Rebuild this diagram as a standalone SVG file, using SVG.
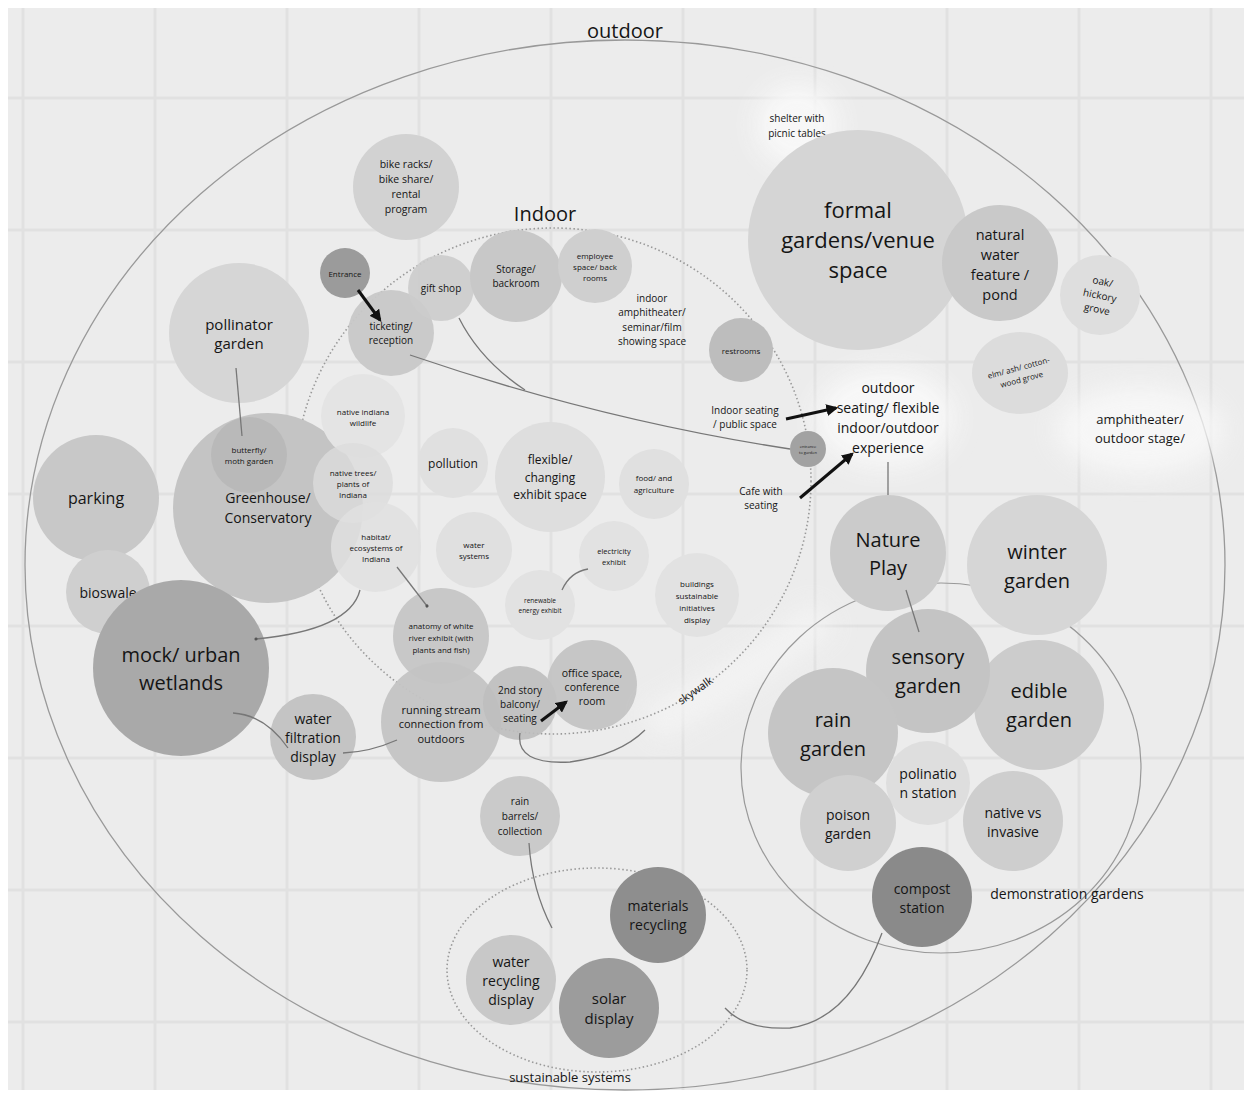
<svg xmlns="http://www.w3.org/2000/svg" width="1248" height="1094" viewBox="0 0 1248 1094">
<defs>
<style>
text{font-family:"Open Sans","Noto Sans","Liberation Sans",sans-serif;fill:#151515;text-anchor:middle;dominant-baseline:central}
.grid line{stroke:#e1e1e1;stroke-width:3}
.ln{fill:none;stroke:#777;stroke-width:1.3}
.ar{fill:none;stroke:#111;stroke-width:3}
.dot{fill:none;stroke:#999;stroke-width:1.6;stroke-dasharray:1.5 2.5}
.glow{fill:#f9f9f9;filter:url(#blur)}
</style>
<filter id="blur" x="-50%" y="-50%" width="200%" height="200%"><feGaussianBlur stdDeviation="12"/></filter>
<marker id="ah" viewBox="0 0 10 10" refX="8" refY="5" markerWidth="4" markerHeight="4" orient="auto"><path d="M0,0 L10,5 L0,10 z" fill="#111"/></marker>
<marker id="sm" viewBox="0 0 10 10" refX="5" refY="5" markerWidth="4" markerHeight="4" orient="auto"><circle cx="5" cy="5" r="3" fill="#555"/></marker>
</defs>
<rect width="1248" height="1094" fill="#ffffff"/>
<rect x="8" y="8" width="1236" height="1082" fill="#ececec"/>
<g class="grid">
<line x1="23" y1="8" x2="23" y2="1090"/><line x1="155" y1="8" x2="155" y2="1090"/><line x1="287" y1="8" x2="287" y2="1090"/><line x1="419" y1="8" x2="419" y2="1090"/><line x1="551" y1="8" x2="551" y2="1090"/><line x1="683" y1="8" x2="683" y2="1090"/><line x1="815" y1="8" x2="815" y2="1090"/><line x1="947" y1="8" x2="947" y2="1090"/><line x1="1079" y1="8" x2="1079" y2="1090"/><line x1="1211" y1="8" x2="1211" y2="1090"/>
<line x1="8" y1="98" x2="1244" y2="98"/><line x1="8" y1="230" x2="1244" y2="230"/><line x1="8" y1="362" x2="1244" y2="362"/><line x1="8" y1="494" x2="1244" y2="494"/><line x1="8" y1="626" x2="1244" y2="626"/><line x1="8" y1="758" x2="1244" y2="758"/><line x1="8" y1="890" x2="1244" y2="890"/><line x1="8" y1="1022" x2="1244" y2="1022"/>
</g>
<g id="zones">
<ellipse cx="625" cy="565" rx="600" ry="525" fill="none" stroke="#999" stroke-width="1.3"/>
<text x="625" y="30" font-size="20">outdoor</text>
<ellipse class="glow" cx="885" cy="418" rx="70" ry="50" opacity="0.9"/>
<ellipse class="glow" cx="1140" cy="430" rx="85" ry="45" opacity="0.8"/>
<circle class="glow" cx="797" cy="125" r="42" opacity="0.9"/>
<path d="M650,725 Q740,680 825,615" fill="none" stroke="#f6f6f6" stroke-width="36" opacity="0.7" filter="url(#blur)"/>
<ellipse cx="553" cy="481" rx="258" ry="253" class="dot"/>
<text x="545" y="213" font-size="20">Indoor</text>
<ellipse cx="941" cy="768" rx="200" ry="185" fill="none" stroke="#999" stroke-width="1.2"/>
<text x="1067" y="893" font-size="14">demonstration gardens</text>
<ellipse cx="597" cy="970" rx="150" ry="102" class="dot"/>
<text x="570" y="1077" font-size="13">sustainable systems</text>
<text x="695" y="690" font-size="11" transform="rotate(-35 695 690)">skywalk</text>
</g>
<g id="n-shelter"><text x="797" y="118" font-size="10">shelter with</text><text x="797" y="133" font-size="10">picnic tables</text></g>
<g id="n-bike"><circle cx="406" cy="187" r="53" fill="#d2d2d2"/><text x="406" y="164" font-size="10.5">bike racks/</text><text x="406" y="179" font-size="10.5">bike share/</text><text x="406" y="194" font-size="10.5">rental</text><text x="406" y="209" font-size="10.5">program</text></g>
<g id="n-formal"><circle cx="858" cy="240" r="110" fill="#d5d5d5"/><text x="858" y="209" font-size="22">formal</text><text x="858" y="239" font-size="22">gardens/venue</text><text x="858" y="269" font-size="22">space</text></g>
<g id="n-pond"><circle cx="1000" cy="263" r="58" fill="#c9c9c9"/><text x="1000" y="234" font-size="14.5">natural</text><text x="1000" y="254" font-size="14.5">water</text><text x="1000" y="274" font-size="14.5">feature /</text><text x="1000" y="294" font-size="14.5">pond</text></g>
<g id="n-oak"><circle cx="1100" cy="295" r="40" fill="#dedede"/><g transform="rotate(12 1100 295)"><text x="1100" y="281" font-size="10">oak/</text><text x="1100" y="295" font-size="10">hickory</text><text x="1100" y="309" font-size="10">grove</text></g></g>
<g id="n-elm"><ellipse cx="1020" cy="373" rx="48" ry="41" fill="#dcdcdc"/><g transform="rotate(-15 1020 373)"><text x="1020" y="367" font-size="8">elm/ ash/ cotton-</text><text x="1020" y="379" font-size="8">wood grove</text></g></g>
<g id="n-amph-out"><text x="1140" y="419" font-size="13">amphitheater/</text><text x="1140" y="438" font-size="13">outdoor stage/</text></g>
<g id="n-pollinator"><circle cx="239" cy="333" r="70" fill="#d6d6d6"/><text x="239" y="324" font-size="15">pollinator</text><text x="239" y="343" font-size="15">garden</text></g>
<g id="n-parking"><circle cx="96" cy="498" r="63" fill="#c8c8c8"/><text x="96" y="498" font-size="16">parking</text></g>
<g id="n-bioswale"><circle cx="108" cy="592" r="42" fill="#cfcfcf"/><text x="108" y="592" font-size="14">bioswale</text></g>
<g id="n-greenhouse"><circle cx="268" cy="508" r="95" fill="#c4c4c4"/><circle cx="249" cy="455" r="38" fill="#b9b9b9"/><text x="249" y="449" font-size="8">butterfly/</text><text x="249" y="460" font-size="8">moth garden</text><text x="268" y="497" font-size="14">Greenhouse/</text><text x="268" y="517" font-size="14">Conservatory</text></g>
<g id="n-wetlands"><circle cx="181" cy="668" r="88" fill="#a9a9a9"/><text x="181" y="654" font-size="20">mock/ urban</text><text x="181" y="682" font-size="20">wetlands</text></g>
<g id="n-filtration"><circle cx="313" cy="737" r="43" fill="#c4c4c4"/><text x="313" y="718" font-size="14">water</text><text x="313" y="737" font-size="14">filtration</text><text x="313" y="756" font-size="14">display</text></g>
<g id="n-entrance"><circle cx="345" cy="273" r="25" fill="#9b9b9b"/><text x="345" y="273" font-size="8">Entrance</text></g>
<g id="n-ticketing"><circle cx="391" cy="333" r="43" fill="#c8c8c8" opacity="0.95"/><text x="391" y="326" font-size="10">ticketing/</text><text x="391" y="340" font-size="10">reception</text></g>
<g id="n-gift"><circle cx="441" cy="288" r="33" fill="#cccccc" opacity="0.9"/><text x="441" y="288" font-size="10">gift shop</text></g>
<g id="n-storage"><circle cx="516" cy="276" r="46" fill="#c8c8c8"/><text x="516" y="269" font-size="10">Storage/</text><text x="516" y="283" font-size="10">backroom</text></g>
<g id="n-employee"><circle cx="595" cy="266" r="37" fill="#cfcfcf"/><text x="595" y="255" font-size="8">employee</text><text x="595" y="266" font-size="8">space/ back</text><text x="595" y="277" font-size="8">rooms</text></g>
<g id="n-amph-in"><text x="652" y="298" font-size="10">indoor</text><text x="652" y="312" font-size="10">amphitheater/</text><text x="652" y="327" font-size="10">seminar/film</text><text x="652" y="341" font-size="10">showing space</text></g>
<g id="n-restrooms"><circle cx="741" cy="350" r="32" fill="#bdbdbd"/><text x="741" y="350" font-size="8">restrooms</text></g>
<g id="n-wildlife"><circle cx="363" cy="416" r="42" fill="#e4e4e4"/><text x="363" y="411" font-size="8">native indiana</text><text x="363" y="422" font-size="8">wildlife</text></g>
<g id="n-trees"><circle cx="353" cy="483" r="40" fill="#dcdcdc" opacity="0.8"/><text x="353" y="472" font-size="8">native trees/</text><text x="353" y="483" font-size="8">plants of</text><text x="353" y="494" font-size="8">Indiana</text></g>
<g id="n-habitat"><circle cx="376" cy="547" r="45" fill="#e0e0e0" opacity="0.85"/><text x="376" y="536" font-size="8">habitat/</text><text x="376" y="547" font-size="8">ecosystems of</text><text x="376" y="558" font-size="8">Indiana</text></g>
<g id="n-pollution"><circle cx="453" cy="463" r="35" fill="#e0e0e0"/><text x="453" y="463" font-size="12">pollution</text></g>
<g id="n-flexible"><circle cx="550" cy="477" r="55" fill="#dedede"/><text x="550" y="459" font-size="12">flexible/</text><text x="550" y="477" font-size="12">changing</text><text x="550" y="494" font-size="12">exhibit space</text></g>
<g id="n-food"><circle cx="654" cy="484" r="35" fill="#e0e0e0"/><text x="654" y="477" font-size="8">food/ and</text><text x="654" y="489" font-size="8">agriculture</text></g>
<g id="n-water-sys"><circle cx="474" cy="550" r="38" fill="#e0e0e0"/><text x="474" y="544" font-size="8">water</text><text x="474" y="555" font-size="8">systems</text></g>
<g id="n-electricity"><circle cx="614" cy="556" r="35" fill="#e2e2e2"/><text x="614" y="551" font-size="7.5">electricity</text><text x="614" y="562" font-size="7.5">exhibit</text></g>
<g id="n-renewable"><circle cx="540" cy="605" r="35" fill="#e2e2e2"/><text x="540" y="600" font-size="6.5">renewable</text><text x="540" y="610" font-size="6.5">energy exhibit</text></g>
<g id="n-buildings"><circle cx="697" cy="595" r="42" fill="#e2e2e2"/><text x="697" y="583" font-size="8">buildings</text><text x="697" y="595" font-size="8">sustainable</text><text x="697" y="607" font-size="8">initiatives</text><text x="697" y="619" font-size="8">display</text></g>
<g id="n-anatomy"><circle cx="441" cy="636" r="48" fill="#c8c8c8"/><text x="441" y="625" font-size="8">anatomy of white</text><text x="441" y="637" font-size="8">river exhibit (with</text><text x="441" y="649" font-size="8">plants and fish)</text></g>
<g id="n-stream"><circle cx="441" cy="722" r="60" fill="#c4c4c4" opacity="0.95"/><text x="441" y="709" font-size="11">running stream</text><text x="441" y="723" font-size="11">connection from</text><text x="441" y="738" font-size="11">outdoors</text></g>
<g id="n-balcony"><circle cx="520" cy="703" r="37" fill="#bebebe" opacity="0.9"/><text x="520" y="690" font-size="10">2nd story</text><text x="520" y="704" font-size="10">balcony/</text><text x="520" y="718" font-size="10">seating</text></g>
<g id="n-office"><circle cx="592" cy="685" r="45" fill="#c2c2c2" opacity="0.9"/><text x="592" y="673" font-size="10.5">office space,</text><text x="592" y="687" font-size="10.5">conference</text><text x="592" y="701" font-size="10.5">room</text></g>
<g id="n-indoor-seating"><text x="745" y="410" font-size="10">Indoor seating</text><text x="745" y="424" font-size="10">/ public space</text></g>
<g id="n-cafe"><text x="761" y="491" font-size="10">Cafe with</text><text x="761" y="505" font-size="10">seating</text></g>
<g id="n-garden-entrance"><circle cx="808" cy="449" r="18" fill="#a2a2a2"/><text x="808" y="446" font-size="4">entrance</text><text x="808" y="452" font-size="4">to garden</text></g>
<g id="n-outdoor-seating"><text x="888" y="387" font-size="14">outdoor</text><text x="888" y="407" font-size="14">seating/ flexible</text><text x="888" y="427" font-size="14">indoor/outdoor</text><text x="888" y="447" font-size="14">experience</text></g>
<g id="n-nature"><circle cx="888" cy="553" r="58" fill="#cbcbcb"/><text x="888" y="539" font-size="20">Nature</text><text x="888" y="567" font-size="20">Play</text></g>
<g id="n-winter"><circle cx="1037" cy="565" r="70" fill="#d6d6d6"/><text x="1037" y="551" font-size="20">winter</text><text x="1037" y="580" font-size="20">garden</text></g>
<g id="n-edible"><circle cx="1039" cy="705" r="65" fill="#cccccc"/><text x="1039" y="690" font-size="20">edible</text><text x="1039" y="719" font-size="20">garden</text></g>
<g id="n-sensory"><circle cx="928" cy="671" r="62" fill="#c4c4c4"/><text x="928" y="656" font-size="20">sensory</text><text x="928" y="685" font-size="20">garden</text></g>
<g id="n-rain"><circle cx="833" cy="733" r="65" fill="#c5c5c5"/><text x="833" y="719" font-size="20">rain</text><text x="833" y="748" font-size="20">garden</text></g>
<g id="n-polination"><circle cx="928" cy="783" r="42" fill="#dedede"/><text x="928" y="773" font-size="14">polinatio</text><text x="928" y="792" font-size="14">n station</text></g>
<g id="n-poison"><circle cx="848" cy="823" r="48" fill="#d0d0d0"/><text x="848" y="814" font-size="14">poison</text><text x="848" y="833" font-size="14">garden</text></g>
<g id="n-native-vs"><circle cx="1013" cy="821" r="50" fill="#cecece"/><text x="1013" y="812" font-size="14">native vs</text><text x="1013" y="831" font-size="14">invasive</text></g>
<g id="n-compost"><circle cx="922" cy="897" r="50" fill="#8a8a8a"/><text x="922" y="888" font-size="14">compost</text><text x="922" y="907" font-size="14">station</text></g>
<g id="n-rainbarrels"><circle cx="520" cy="816" r="40" fill="#cacaca"/><text x="520" y="801" font-size="10">rain</text><text x="520" y="816" font-size="10">barrels/</text><text x="520" y="831" font-size="10">collection</text></g>
<g id="n-materials"><circle cx="658" cy="915" r="48" fill="#8e8e8e"/><text x="658" y="905" font-size="14">materials</text><text x="658" y="924" font-size="14">recycling</text></g>
<g id="n-water-recycling"><circle cx="511" cy="980" r="45" fill="#c8c8c8"/><text x="511" y="961" font-size="14">water</text><text x="511" y="980" font-size="14">recycling</text><text x="511" y="999" font-size="14">display</text></g>
<g id="n-solar"><circle cx="609" cy="1008" r="50" fill="#9c9c9c"/><text x="609" y="998" font-size="15">solar</text><text x="609" y="1018" font-size="15">display</text></g>
<g id="connectors">
<path class="ar" d="M358,290 L380,320" marker-end="url(#ah)"/>
<path class="ar" d="M786,419 L836,408" marker-end="url(#ah)"/>
<path class="ar" d="M800,498 L852,454" stroke-width="4" marker-end="url(#ah)"/>
<path class="ar" d="M541,721 L566,702" marker-end="url(#ah)"/>
<path class="ln" d="M410,355 Q600,420 790,449"/>
<path class="ln" d="M459,318 Q480,360 525,390"/>
<path class="ln" d="M888,462 L888,495"/>
<path class="ln" d="M906,590 L919,632"/>
<path class="ln" d="M236,368 L242,436"/>
<path class="ln" d="M397,567 L427,606" marker-end="url(#sm)"/>
<path class="ln" d="M360,590 Q350,630 256,639" marker-end="url(#sm)"/>
<path class="ln" d="M588,569 Q570,572 562,590"/>
<path class="ln" d="M233,713 Q265,715 288,748"/>
<path class="ln" d="M343,753 Q370,752 397,740"/>
<path class="ln" d="M520,733 Q515,765 570,762 Q620,755 645,730"/>
<path class="ln" d="M529,843 Q532,890 552,928"/>
<path class="ln" d="M725,1008 Q745,1030 790,1028 Q850,1020 882,933"/>
</g>
</svg>
